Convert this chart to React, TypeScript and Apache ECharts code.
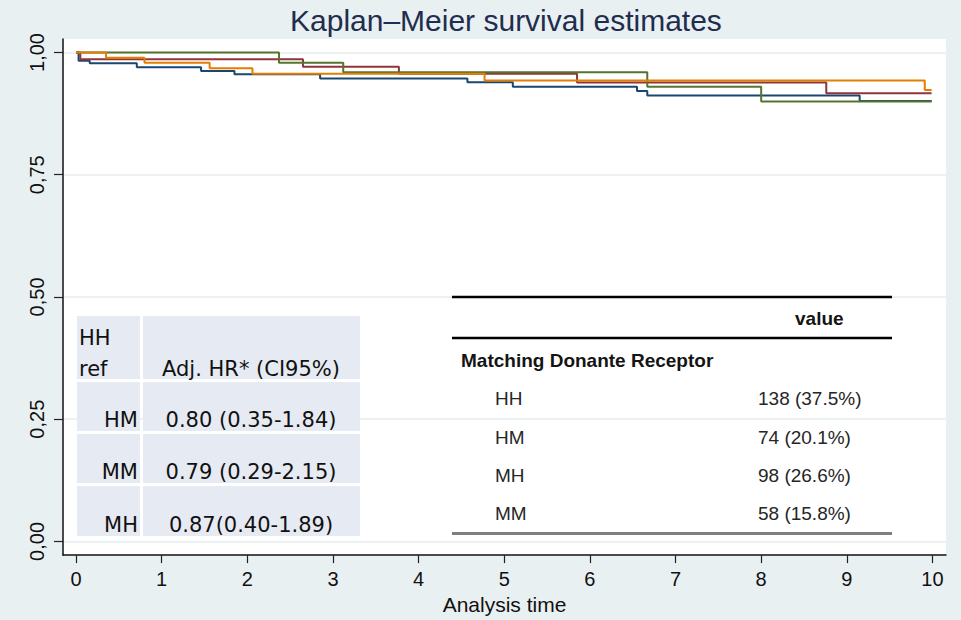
import React, { useEffect, useRef } from "react";
import * as echarts from "echarts";

// ---- data ----
const xTicks = [0, 1, 2, 3, 4, 5, 6, 7, 8, 9, 10];
const yTicks = [0, 0.25, 0.5, 0.75, 1];

const seriesNames = ["HH", "HM", "MH", "MM"];
const seriesColors = ["#1a476f", "#90353b", "#55752f", "#e37e00"];

const navyTimes = [0, 0.03, 0.16, 0.71, 1.46, 1.85, 2.85, 4.57, 5.1, 6.55, 6.67, 9.15, 9.99];
const navySurv = [1, 0.983, 0.978, 0.97, 0.962, 0.9555, 0.947, 0.939, 0.93, 0.921, 0.912, 0.901, 0.901];

const maroonTimes = [0, 0.05, 2.65, 3.77, 5.85, 8.76, 9.99];
const maroonSurv = [1, 0.986, 0.971, 0.9567, 0.9384, 0.9167, 0.9167];

const greenTimes = [0, 2.37, 3.12, 6.67, 8.0, 9.99];
const greenSurv = [1, 0.979, 0.9596, 0.93, 0.8996, 0.8996];

const orangeTimes = [0, 0.35, 0.8, 1.56, 2.06, 4.77, 9.91, 9.99];
const orangeSurv = [1, 0.9894, 0.979, 0.9677, 0.9567, 0.9425, 0.9235, 0.9235];

const hrHeaderLeft = ["HH", "ref"];
const hrHeaderRight = "Adj. HR* (CI95%)";
const hrGroups = ["HM", "MM", "MH"];
const hrValues = ["0.80 (0.35-1.84)", "0.79 (0.29-2.15)", "0.87(0.40-1.89)"];

const countHeader = "value";
const countSection = "Matching Donante Receptor";
const countGroups = ["HH", "HM", "MH", "MM"];
const countValues = ["138 (37.5%)", "74 (20.1%)", "98 (26.6%)", "58 (15.8%)"];

const pairs = (xs: number[], ys: number[]) => xs.map((x, i) => [x, ys[i]]);

export default function App() {
  const ref = useRef<HTMLDivElement>(null);

  useEffect(() => {
    document.body.style.margin = "0";
    const chart = echarts.init(ref.current!, null, { renderer: "svg" });

    const curves = [
      pairs(navyTimes, navySurv),
      pairs(maroonTimes, maroonSurv),
      pairs(greenTimes, greenSurv),
      pairs(orangeTimes, orangeSurv),
    ];

    const hrFont = "'DejaVu Sans', sans-serif";
    const tFont = "'Liberation Sans', Arial, sans-serif";
    const cellFill = "#e6eaf2";

    // left table
    const colX = [77, 143];
    const colW = [63, 217];
    const rowY = [316, 382, 434, 486];
    const rowH = [63, 49, 49, 50];
    const leftElems: any[] = [];
    rowY.forEach((ry, r) => {
      colX.forEach((cx, c) => {
        leftElems.push({
          type: "rect",
          shape: { x: cx, y: ry, width: colW[c], height: rowH[r] },
          style: { fill: cellFill },
          z: 10,
        });
      });
    });
    const hrText = (text: string, x: number, baseline: number, align: string) => ({
      type: "text",
      x,
      y: baseline,
      z: 11,
      style: {
        text,
        fill: "#111",
        font: `21px ${hrFont}`,
        textAlign: align,
        textVerticalAlign: "bottom",
      },
    });
    leftElems.push(hrText(hrHeaderLeft[0], 79, 348, "left"));
    leftElems.push(hrText(hrHeaderLeft[1], 79, 379, "left"));
    leftElems.push(hrText(hrHeaderRight, 251, 379, "center"));
    const rowBase = [430, 482, 535];
    hrGroups.forEach((g, i) => {
      leftElems.push(hrText(g, 138, rowBase[i], "right"));
      leftElems.push(hrText(hrValues[i], 251, rowBase[i], "center"));
    });

    // right table
    const rightElems: any[] = [
      { type: "line", shape: { x1: 452, y1: 297, x2: 892, y2: 297 }, style: { stroke: "#000", lineWidth: 2.5 }, z: 10 },
      { type: "line", shape: { x1: 452, y1: 338, x2: 892, y2: 338 }, style: { stroke: "#000", lineWidth: 2.5 }, z: 10 },
      { type: "line", shape: { x1: 452, y1: 533.5, x2: 892, y2: 533.5 }, style: { stroke: "#7f7f7f", lineWidth: 3 }, z: 10 },
    ];
    const tText = (text: string, x: number, y: number, bold: boolean) => ({
      type: "text",
      x,
      y,
      z: 11,
      style: {
        text,
        fill: bold ? "#141414" : "#262626",
        font: `${bold ? "bold " : ""}19px ${tFont}`,
        textAlign: "left",
        textVerticalAlign: "middle",
      },
    });
    rightElems.push(tText(countHeader, 795, 318, true));
    rightElems.push(tText(countSection, 461, 360, true));
    const cRowY = [398.5, 437, 475, 513.5];
    countGroups.forEach((g, i) => {
      rightElems.push(tText(g, 495, cRowY[i], false));
      rightElems.push(tText(countValues[i], 758, cRowY[i], false));
    });

    chart.setOption({
      animation: false,
      backgroundColor: "#e9f0f2",
      title: {
        text: "Kaplan\u2013Meier survival estimates",
        left: 285,
        top: 0,
        textStyle: {
          fontSize: 30,
          fontWeight: "normal",
          color: "#1f2d4e",
          fontFamily: tFont,
        },
      },
      grid: {
        left: 63,
        right: 15,
        top: 39,
        bottom: 64,
        show: true,
        backgroundColor: "#ffffff",
        borderWidth: 0,
      },
      xAxis: {
        type: "value",
        min: -0.152,
        max: 10.158,
        name: "Analysis time",
        nameLocation: "middle",
        nameGap: 37,
        nameTextStyle: { fontSize: 21, color: "#111", fontFamily: tFont },
        axisLine: { show: true, onZero: false, lineStyle: { color: "#111", width: 1.5 } },
        axisTick: { show: true, length: 8, customValues: xTicks, lineStyle: { color: "#222", width: 1.2 } },
        axisLabel: { customValues: xTicks, margin: 14, fontSize: 20, color: "#111", fontFamily: tFont },
        splitLine: { show: false },
      },
      yAxis: {
        type: "value",
        min: -0.028,
        max: 1.0276,
        axisLine: { show: true, onZero: false, lineStyle: { color: "#111", width: 1.5 } },
        axisTick: { show: true, length: 9, customValues: yTicks, lineStyle: { color: "#222", width: 1.2 } },
        axisLabel: {
          customValues: yTicks,
          rotate: 90,
          margin: 16,
          fontSize: 20,
          color: "#111",
          fontFamily: tFont,
          formatter: (v: number) => v.toFixed(2).replace(".", ","),
        },
        splitLine: { show: true, lineStyle: { color: "#e6eef1", width: 1.5 } },
      },
      series: curves.map((d, i) => ({
        type: "line",
        name: seriesNames[i],
        data: d,
        step: "end",
        symbol: "none",
        lineStyle: { color: seriesColors[i], width: 2 },
        itemStyle: { color: seriesColors[i] },
        z: 2 + i,
      })),
      graphic: [...leftElems, ...rightElems],
    });

    return () => chart.dispose();
  }, []);

  return (
    <div
      ref={ref}
      style={{ position: "fixed", left: 0, top: 0, width: 961, height: 620 }}
    />
  );
}
